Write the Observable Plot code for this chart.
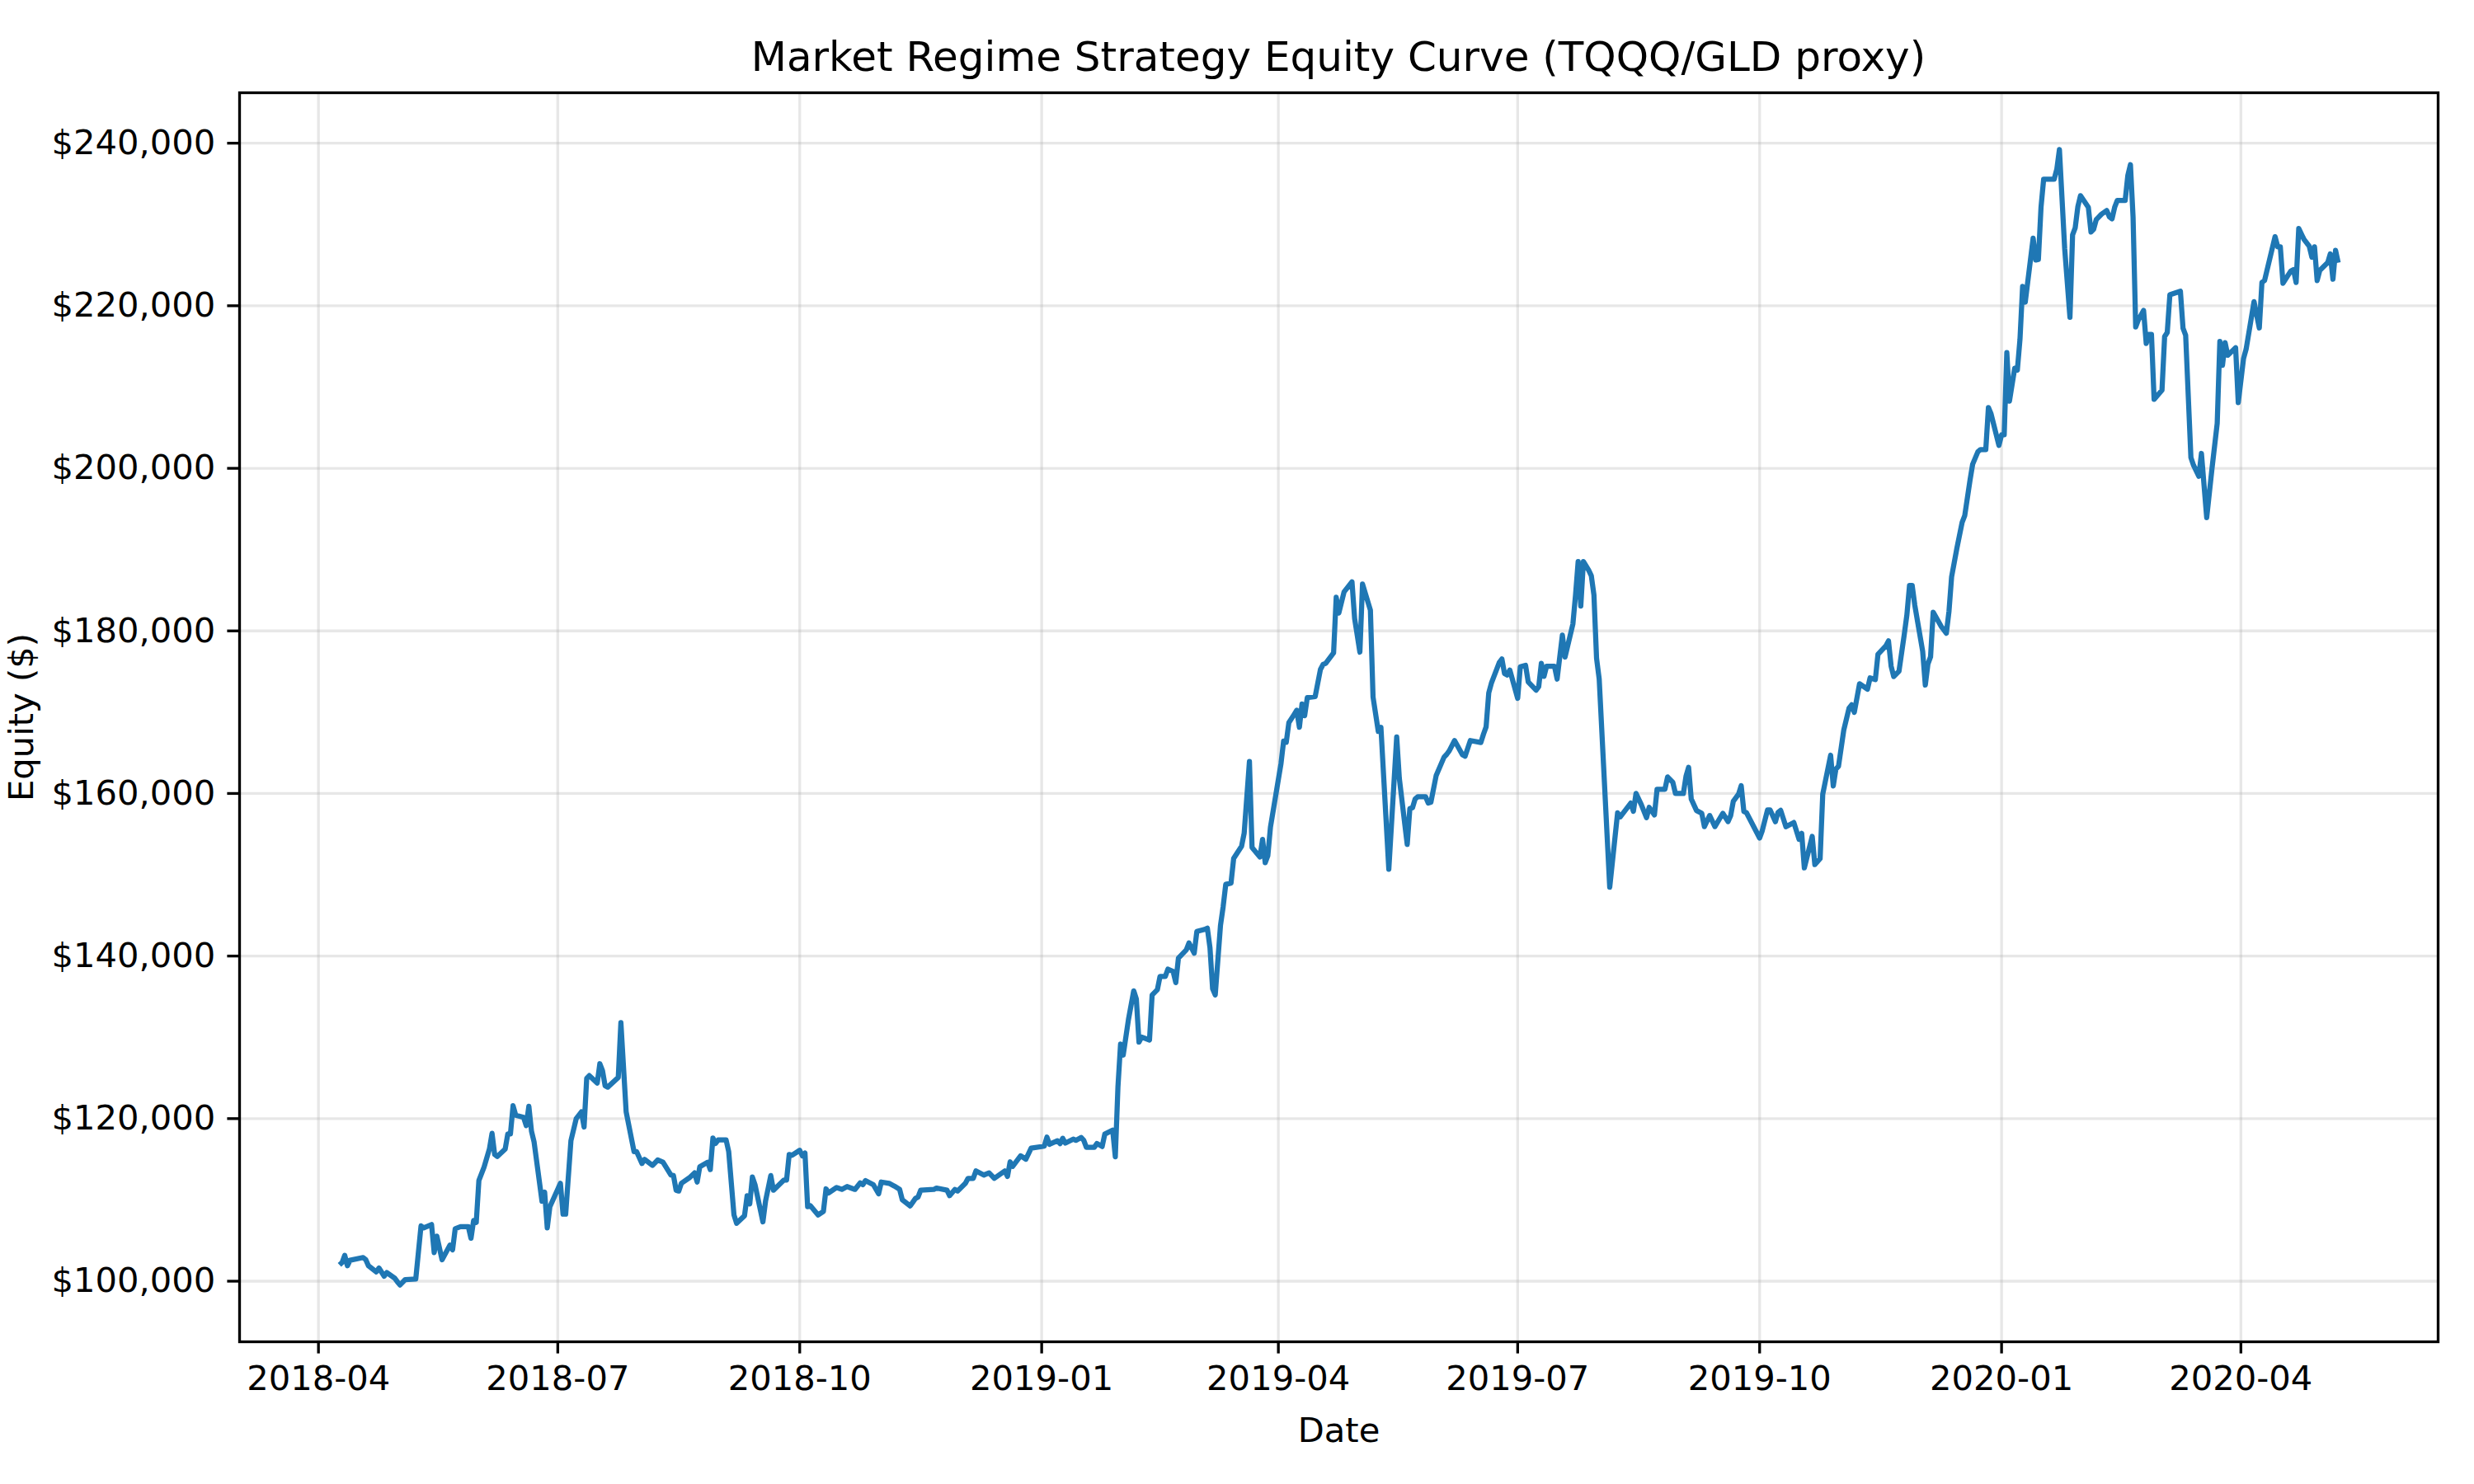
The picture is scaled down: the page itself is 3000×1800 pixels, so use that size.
<!DOCTYPE html>
<html>
<head>
<meta charset="utf-8">
<script src="https://cdn.jsdelivr.net/npm/d3@7"></script>
<script src="https://cdn.jsdelivr.net/npm/@observablehq/plot@0.6"></script>
<style>
  html, body { margin: 0; padding: 0; background: #ffffff; }
  #wrap { position: relative; width: 3000px; height: 1800px; background: #ffffff; overflow: hidden; }
  #title { position: absolute; left: 290px; width: 2666px; top: 44px; text-align: center;
           font-family: "DejaVu Sans", sans-serif; font-size: 50px; line-height: 50px; color: #000; z-index: 2; }
  #chart { position: absolute; left: 0; top: 0; }
</style>
</head>
<body>
<div id="wrap">
  <div id="title">Market Regime Strategy Equity Curve (TQQQ/GLD proxy)</div>
  <div id="chart"></div>
</div>
<script>
const titleText = "Market Regime Strategy Equity Curve (TQQQ/GLD proxy)";
const xLabel = "Date";
const yLabel = "Equity ($)";
const xTickLabels = ["2018-04","2018-07","2018-10","2019-01","2019-04","2019-07","2019-10","2020-01","2020-04"];
const yTickValues = [100000,120000,140000,160000,180000,200000,220000,240000];

const dates = [
"2018-04-09","2018-04-10","2018-04-11","2018-04-12","2018-04-13","2018-04-18","2018-04-19","2018-04-20","2018-04-23","2018-04-24","2018-04-26","2018-04-27","2018-04-30",
"2018-05-01","2018-05-02","2018-05-04","2018-05-08","2018-05-10","2018-05-11","2018-05-14","2018-05-15","2018-05-16","2018-05-18","2018-05-21","2018-05-22","2018-05-23","2018-05-25","2018-05-28","2018-05-29","2018-05-30","2018-05-31",
"2018-06-01","2018-06-03","2018-06-05","2018-06-06","2018-06-07","2018-06-08","2018-06-11","2018-06-12","2018-06-13","2018-06-14","2018-06-15","2018-06-18","2018-06-19","2018-06-20","2018-06-21","2018-06-22","2018-06-25","2018-06-26","2018-06-27","2018-06-28",
"2018-07-02","2018-07-03","2018-07-04","2018-07-06","2018-07-08","2018-07-10","2018-07-11","2018-07-12","2018-07-13","2018-07-16","2018-07-17","2018-07-18","2018-07-19","2018-07-20","2018-07-24","2018-07-25","2018-07-27","2018-07-30","2018-07-31",
"2018-08-02","2018-08-03","2018-08-06","2018-08-08","2018-08-10","2018-08-13","2018-08-14","2018-08-15","2018-08-16","2018-08-17","2018-08-20","2018-08-22","2018-08-23","2018-08-24","2018-08-27","2018-08-28","2018-08-29","2018-08-30","2018-08-31",
"2018-09-03","2018-09-04","2018-09-06","2018-09-07","2018-09-10","2018-09-11","2018-09-12","2018-09-13","2018-09-14","2018-09-17","2018-09-18","2018-09-20","2018-09-21","2018-09-25","2018-09-26","2018-09-27","2018-09-28",
"2018-10-01","2018-10-02","2018-10-03","2018-10-04","2018-10-05","2018-10-08","2018-10-10","2018-10-11","2018-10-12","2018-10-15","2018-10-17","2018-10-19","2018-10-22","2018-10-24","2018-10-25","2018-10-26","2018-10-29","2018-10-31",
"2018-11-01","2018-11-04","2018-11-06","2018-11-08","2018-11-09","2018-11-12","2018-11-14","2018-11-15","2018-11-16","2018-11-21","2018-11-22","2018-11-26","2018-11-27","2018-11-29","2018-11-30",
"2018-12-03","2018-12-04","2018-12-06","2018-12-07","2018-12-10","2018-12-12","2018-12-14","2018-12-18","2018-12-19","2018-12-20","2018-12-21","2018-12-24","2018-12-26","2018-12-28",
"2019-01-02","2019-01-03","2019-01-04","2019-01-07","2019-01-08","2019-01-09","2019-01-10","2019-01-13","2019-01-14","2019-01-16","2019-01-17","2019-01-18","2019-01-21","2019-01-22","2019-01-24","2019-01-25","2019-01-28","2019-01-29","2019-01-30","2019-01-31",
"2019-02-01","2019-02-03","2019-02-05","2019-02-06","2019-02-07","2019-02-08","2019-02-11","2019-02-12","2019-02-14","2019-02-15","2019-02-17","2019-02-18","2019-02-20","2019-02-21","2019-02-22","2019-02-25","2019-02-26","2019-02-28",
"2019-03-01","2019-03-04","2019-03-05","2019-03-06","2019-03-07","2019-03-08","2019-03-10","2019-03-11","2019-03-12","2019-03-14","2019-03-15","2019-03-18","2019-03-19","2019-03-21","2019-03-22","2019-03-25","2019-03-26","2019-03-27","2019-03-28","2019-03-29",
"2019-04-02","2019-04-03","2019-04-04","2019-04-05","2019-04-07","2019-04-08","2019-04-09","2019-04-10","2019-04-11","2019-04-12","2019-04-15","2019-04-17","2019-04-18","2019-04-19","2019-04-22","2019-04-23","2019-04-24","2019-04-26","2019-04-29","2019-04-30",
"2019-05-02","2019-05-03","2019-05-06","2019-05-07","2019-05-09","2019-05-10","2019-05-13","2019-05-16","2019-05-17","2019-05-20","2019-05-21","2019-05-22","2019-05-23","2019-05-24","2019-05-27","2019-05-28","2019-05-29","2019-05-31",
"2019-06-03","2019-06-04","2019-06-05","2019-06-07","2019-06-10","2019-06-11","2019-06-13","2019-06-17","2019-06-18","2019-06-19","2019-06-20","2019-06-21","2019-06-24","2019-06-25","2019-06-26","2019-06-27","2019-06-28",
"2019-07-01","2019-07-02","2019-07-04","2019-07-05","2019-07-08","2019-07-09","2019-07-10","2019-07-11","2019-07-12","2019-07-15","2019-07-16","2019-07-18","2019-07-19","2019-07-22","2019-07-23","2019-07-24","2019-07-25","2019-07-26","2019-07-28","2019-07-29","2019-07-30","2019-07-31",
"2019-08-01","2019-08-05","2019-08-07","2019-08-08","2019-08-09","2019-08-13","2019-08-14","2019-08-15","2019-08-17","2019-08-19","2019-08-20","2019-08-22","2019-08-23","2019-08-26","2019-08-27","2019-08-29","2019-08-30",
"2019-09-02","2019-09-03","2019-09-04","2019-09-05","2019-09-07","2019-09-09","2019-09-10","2019-09-12","2019-09-14","2019-09-17","2019-09-19","2019-09-20","2019-09-21","2019-09-23","2019-09-24","2019-09-25","2019-09-26",
"2019-10-01","2019-10-02","2019-10-04","2019-10-05","2019-10-07","2019-10-08","2019-10-09","2019-10-11","2019-10-14","2019-10-16","2019-10-17","2019-10-18","2019-10-21","2019-10-22","2019-10-24","2019-10-25","2019-10-28","2019-10-29","2019-10-30","2019-10-31",
"2019-11-02","2019-11-04","2019-11-05","2019-11-06","2019-11-08","2019-11-11","2019-11-12","2019-11-14","2019-11-15","2019-11-18","2019-11-19","2019-11-20","2019-11-21","2019-11-23","2019-11-25","2019-11-26","2019-11-27","2019-11-28","2019-11-29",
"2019-12-02","2019-12-03","2019-12-04","2019-12-05","2019-12-06","2019-12-09","2019-12-11","2019-12-12","2019-12-13","2019-12-15","2019-12-17","2019-12-18","2019-12-20","2019-12-21","2019-12-23","2019-12-24","2019-12-26","2019-12-27","2019-12-28","2019-12-31",
"2020-01-01","2020-01-02","2020-01-03","2020-01-04","2020-01-06","2020-01-07","2020-01-08","2020-01-09","2020-01-10","2020-01-13","2020-01-14","2020-01-15","2020-01-16","2020-01-17","2020-01-21","2020-01-22","2020-01-23","2020-01-25","2020-01-27","2020-01-28","2020-01-29","2020-01-30","2020-01-31",
"2020-02-03","2020-02-04","2020-02-05","2020-02-06","2020-02-08","2020-02-10","2020-02-11","2020-02-12","2020-02-13","2020-02-14","2020-02-17","2020-02-18","2020-02-19","2020-02-20","2020-02-21","2020-02-22","2020-02-24","2020-02-25","2020-02-26","2020-02-27","2020-02-28",
"2020-03-02","2020-03-03","2020-03-04","2020-03-05","2020-03-09","2020-03-10","2020-03-11","2020-03-13","2020-03-14","2020-03-16","2020-03-17","2020-03-19","2020-03-21","2020-03-23","2020-03-24","2020-03-25","2020-03-26","2020-03-27","2020-03-30","2020-03-31",
"2020-04-02","2020-04-03","2020-04-06","2020-04-08","2020-04-09","2020-04-10","2020-04-14","2020-04-15","2020-04-16","2020-04-17","2020-04-20","2020-04-21","2020-04-22","2020-04-23","2020-04-25","2020-04-27","2020-04-28","2020-04-29","2020-04-30",
"2020-05-01","2020-05-04","2020-05-05","2020-05-06","2020-05-07","2020-05-08"
];

const equity = [
102000,102300,103180,101900,102570,102910,102640,101900,101150,101620,100610,101050,100370,
99930,99530,100200,100270,106800,106560,106970,103520,105550,102640,104430,103860,106460,106700,106700,105280,107470,107230,
112380,114070,116260,118190,115590,115350,116260,118130,118130,121580,120420,120160,119140,121510,118460,117110,109840,110960,106560,109160,
112040,108250,108250,117280,119990,120830,118970,124960,125290,124380,126750,125900,124040,123870,125060,131800,120830,115930,115930,
114480,114980,114240,114910,114640,113060,112990,111190,111090,112040,112710,113320,112200,114070,114640,113730,117620,116940,117380,
117380,115930,108150,107130,108050,110520,109510,112810,111870,107300,109840,112990,111190,112450,112450,115590,115490,
116100,115420,115760,109160,109300,108150,108590,111360,110860,111530,111290,111640,111290,112100,111870,112380,111870,110750,
112200,112040,111700,111290,110010,109260,110180,110350,111190,111290,111460,111190,110520,111290,111090,
112040,112650,112650,113560,113060,113320,112650,113560,112880,114680,114130,115420,115010,116360,
116610,117720,116840,117280,116930,117580,116980,117480,117330,117680,117330,116470,116470,116930,116570,118090,118590,115310,123880,129170,
127810,132190,135720,134710,129420,130030,129670,135210,135870,137480,137480,138390,138090,136730,139750,140760,141610,140350,
143020,143280,143430,141010,135970,135210,143780,146050,148820,148970,152000,153500,155110,163930,153350,152190,154360,151490,152340,155870,
163680,166450,166300,168720,169720,170240,168140,171020,169560,171800,171930,175260,175870,176000,177290,184140,182200,184810,186040,181530,
177390,185760,182540,171870,167630,168140,150680,166950,161860,153730,158140,158240,159320,159590,159590,158810,158920,162200,
164470,164810,165250,166510,164750,164580,166510,166270,167290,168200,172370,173560,176100,176540,174750,174580,175190,
171700,175590,175760,173730,172710,173150,176000,174410,175660,175660,174070,179490,176780,180850,184410,188540,183050,188540,187460,186780,184410,176610,
174070,148470,154580,157630,157120,158810,157800,160000,158640,157020,158300,157360,160510,160510,162030,161360,160000,
160000,162100,163220,159320,157900,157560,155930,157290,155930,157560,156540,157290,159050,159930,160950,157800,157630,
154510,155420,157970,157970,156530,157670,157930,155910,156430,154360,155090,150850,154720,151260,151980,159900,164710,160930,163000,163360,
167810,170500,170910,169980,173500,172830,174220,174020,177120,178150,178770,175670,174380,175050,179550,181980,185600,185600,183170,
177480,173340,175930,176810,182290,180580,179710,182400,186640,190150,193360,194190,198530,200500,202050,202310,202310,207480,206700,202820,
204120,204120,214250,208260,212320,212080,215870,222370,220440,228320,225620,225690,232110,235570,235570,236790,239220,227040,218580,228730,229580,232180,233540,
232110,229070,229410,230590,231270,231710,230930,230690,232110,232960,232960,236010,237360,230930,217390,218240,219420,215360,216480,216480,208490,
209610,216210,216720,221350,221790,217230,216380,201320,200370,199020,201830,193940,199950,205550,215600,212660,215470,213910,214840,208090,
213490,214670,220510,217270,222870,223100,228500,227250,227250,222770,224280,224450,222870,229510,228160,227320,225970,227250,223100,
224350,225300,226380,223270,226810,225300
];

if (dates.length !== equity.length) throw new Error("length mismatch " + dates.length + " vs " + equity.length);

const data = dates.map((d, i) => ({date: new Date(d + "T00:00:00Z"), equity: equity[i]}));
const xTicks = xTickLabels.map(s => new Date(s + "-01T00:00:00Z"));

// matplotlib-style 5% margins around the data extent
const xMin = d3.min(data, d => d.date), xMax = d3.max(data, d => d.date);
const xPad = (xMax - xMin) * 0.05;
const yMin = d3.min(equity), yMax = d3.max(equity);
const yPad = (yMax - yMin) * 0.05;

const FS = 41.67, TICK = 14.6, LW = 3.33;
const gridStyle = {stroke: "#b0b0b0", strokeOpacity: 0.3, strokeWidth: LW};

const chart = Plot.plot({
  width: 3000,
  height: 1800,
  marginLeft: 290,
  marginRight: 44,
  marginTop: 112,
  marginBottom: 173,
  style: {fontFamily: "DejaVu Sans, sans-serif", fontSize: FS + "px", background: "#ffffff", color: "#000000", overflow: "visible"},
  x: {type: "utc", domain: [new Date(+xMin - xPad), new Date(+xMax + xPad)]},
  y: {domain: [yMin - yPad, yMax + yPad]},
  marks: [
    Plot.gridX(xTicks, gridStyle),
    Plot.gridY(yTickValues, gridStyle),
    Plot.line(data, {x: "date", y: "equity", stroke: "#1f77b4", strokeWidth: 6.25, strokeLinejoin: "round", strokeLinecap: "butt"}),
    Plot.frame({stroke: "#000000", strokeWidth: LW}),
    Plot.axisX(xTicks, {tickFormat: d3.utcFormat("%Y-%m"), tickSize: TICK, tickPadding: TICK, strokeWidth: LW, stroke: "#000", fill: "#000", fontSize: FS, label: null}),
    Plot.axisY(yTickValues, {tickFormat: d => "$" + d3.format(",")(d), tickSize: TICK, tickPadding: TICK, strokeWidth: LW, stroke: "#000", fill: "#000", fontSize: FS, label: null}),
    Plot.text([xLabel], {text: d => d, frameAnchor: "bottom", textAnchor: "middle", lineAnchor: "middle", dy: 108, fontSize: FS, fill: "#000"}),
    Plot.text([yLabel], {text: d => d, frameAnchor: "left", textAnchor: "middle", lineAnchor: "middle", dx: -264, rotate: -90, fontSize: FS, fill: "#000"})
  ]
});
document.getElementById("chart").appendChild(chart);
document.getElementById("title").textContent = titleText;
</script>
</body>
</html>
